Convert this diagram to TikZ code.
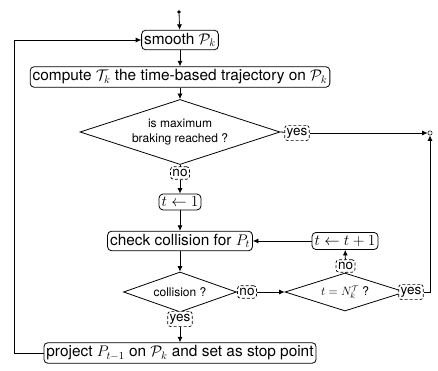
\documentclass[tikz,border=0pt]{standalone}
\usepackage{fix-cm}
\usepackage[no-math]{fontspec}
\setmainfont{TeX Gyre Heros}
\usetikzlibrary{shapes.geometric,arrows.meta}
\begin{document}
\begin{tikzpicture}[x=1pt,y=-1pt,
  box/.style={draw, rounded corners=4pt, inner xsep=2.5pt, inner ysep=3pt, font=\fontsize{15.4}{18}\selectfont, line width=0.8pt},
  dec/.style={draw, diamond, inner sep=0pt, font=\fontsize{12}{14.5}\selectfont, align=center, line width=0.8pt},
  lbl/.style={draw, dashed, dash pattern=on 3pt off 2pt, rounded corners=3pt, fill=white, inner xsep=2pt, inner ysep=2.5pt, font=\fontsize{13.5}{16}\selectfont, line width=0.7pt},
  arr/.style={-{Latex[length=5.5pt,width=5pt]}, line width=0.8pt},
  ln/.style={line width=0.8pt}]
\useasboundingbox (0,0) rectangle (438,371);
\node[circle, fill, inner sep=1.4pt] (start) at (179,12) {};
\node[box] (smooth) at (180,40) {smooth $\mathcal{P}_k$};
\node[box] (compute) at (180,77) {compute $\mathcal{T}_k$ the time-based trajectory on $\mathcal{P}_k$};
\node[dec, shape aspect=3.08, minimum width=200pt, minimum height=65pt] (d1) at (180,132) {is maximum\\braking reached ?};
\node[circle, draw, inner sep=1.5pt, line width=0.5pt] (end) at (430,133) {};
\node[box] (t1) at (180,202) {$t \leftarrow 1$};
\node[box] (check) at (180,241) {check collision for $P_t$};
\node[box] (tinc) at (345,241) {$t \leftarrow t+1$};
\node[dec, shape aspect=2.8, minimum width=113pt, minimum height=40pt] (d2) at (180,292) {collision ?};
\node[dec, shape aspect=3.16, minimum width=120pt, minimum height=38pt] (d3) at (345,292) {$t = N_k^{\mathcal{T}}$ ?};
\node[box] (proj) at (180,353) {project $P_{t-1}$ on $\mathcal{P}_k$ and set as stop point};
\draw[ln] (d1.east) -- (297,133);
\draw[ln] (d2.east) -- (247,292);
\draw[ln] (d3.east) -- (411,292);
\draw[ln] (d3.north) -- (345,266);
\draw[ln] (d1.south) -- (180,173);
\draw[ln] (d2.south) -- (180,319);
\node[lbl] (yes1) at (297,133) {yes};
\node[lbl] (no1) at (180,173) {no};
\node[lbl] (no2) at (247,292) {no};
\node[lbl] (no3) at (345.5,266) {no};
\node[lbl] (yes3) at (411,292) {yes};
\node[lbl] (yes2) at (180,319) {yes};
\coordinate (loop) at (14,353);
\draw[arr] (start) -- (smooth);
\draw[arr] (smooth) -- (compute);
\draw[arr] (compute) -- (d1.north);
\draw[arr] (yes1) -- (end);
\draw[arr] (no1) -- (t1);
\draw[arr] (t1) -- (check);
\draw[arr] (check) -- (d2.north);
\draw[arr] (no2) -- (d3.west);
\draw[arr] (no3) -- (tinc);
\draw[arr] (tinc) -- (check);
\draw[arr] (yes3.east) -| (end.south);
\draw[arr] (yes2) -- (proj);
\draw[arr] (proj.west) -- (loop) |- (smooth.west);
\end{tikzpicture}
\end{document}
